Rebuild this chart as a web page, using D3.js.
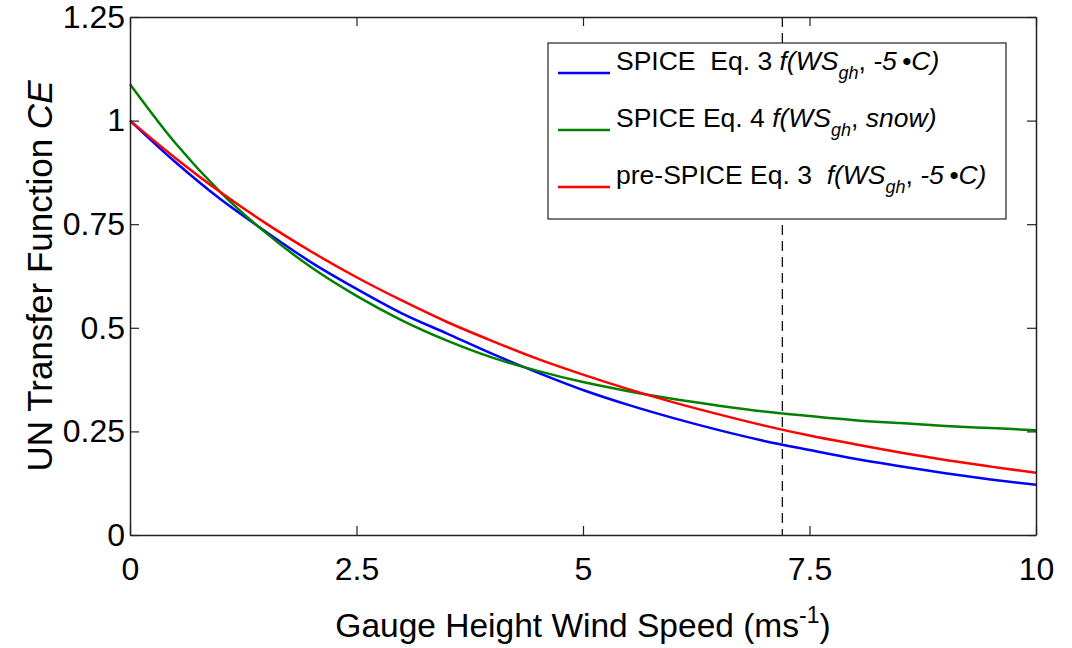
<!DOCTYPE html>
<html>
<head>
<meta charset="utf-8">
<script src="https://cdn.jsdelivr.net/npm/d3@7"></script>
<style>
  body { margin: 0; background: #fff; }
  text { font-family: "Liberation Sans", Arial, sans-serif; fill: #000; }
</style>
</head>
<body>
<div class="canvas"></div>
<script>
// wind speed at gauge height (m/s)
const windSpeed = [0, 0.5, 1, 1.5, 2, 2.5, 3, 3.5, 4, 4.5, 5, 5.5, 6, 6.5, 7, 7.5, 8, 8.5, 9, 9.5, 10];
// SPICE Eq. 3, -5 C
const spiceEq3 = [1.0, 0.9, 0.81, 0.732, 0.658, 0.594, 0.535, 0.486, 0.437, 0.392, 0.35, 0.314, 0.282, 0.253, 0.227, 0.205, 0.184, 0.166, 0.149, 0.134, 0.121];
// SPICE Eq. 4, snow
const spiceEq4 = [1.088, 0.946, 0.827, 0.729, 0.646, 0.577, 0.518, 0.469, 0.428, 0.396, 0.369, 0.347, 0.328, 0.312, 0.298, 0.287, 0.277, 0.27, 0.263, 0.258, 0.253];
// pre-SPICE Eq. 3, -5 C
const preSpiceEq3 = [1.0, 0.91, 0.827, 0.752, 0.684, 0.622, 0.566, 0.514, 0.468, 0.425, 0.387, 0.352, 0.32, 0.291, 0.264, 0.24, 0.219, 0.199, 0.181, 0.165, 0.15];
const xTicks = [0, 2.5, 5, 7.5, 10];
const yTicks = [0, 0.25, 0.5, 0.75, 1, 1.25];
const thresholdSpeed = 7.2;

const series = [
  { name: 'spiceEq3', values: spiceEq3, colour: '#0000ff' },
  { name: 'spiceEq4', values: spiceEq4, colour: '#008000' },
  { name: 'preSpiceEq3', values: preSpiceEq3, colour: '#ff0000' },
];

const dims = { width: 1072, height: 648 };
const plot = { left: 130, right: 1036, top: 17, bottom: 535 };

const svg = d3
  .select('.canvas')
  .append('svg')
  .attr('width', dims.width)
  .attr('height', dims.height);

const x = d3.scaleLinear().domain([0, 10]).range([plot.left, plot.right]);
const y = d3.scaleLinear().domain([0, 1.25]).range([plot.bottom, plot.top]);

// dashed threshold line (sits behind the legend)
svg
  .append('line')
  .attr('x1', x(thresholdSpeed))
  .attr('x2', x(thresholdSpeed))
  .attr('y1', y(1.25))
  .attr('y2', y(0))
  .attr('stroke', '#000')
  .attr('stroke-width', 1.2)
  .attr('stroke-dasharray', '10,6');

// curves
const line = d3
  .line()
  .x((d, i) => x(windSpeed[i]))
  .y((d) => y(d))
  .curve(d3.curveMonotoneX);

svg
  .selectAll('path.curve')
  .data(series)
  .enter()
  .append('path')
  .attr('class', 'curve')
  .attr('fill', 'none')
  .attr('stroke', (d) => d.colour)
  .attr('stroke-width', 2.5)
  .attr('d', (d) => line(d.values));

// axes, ticks pointing inwards on all four sides
const styleAxis = (g) => {
  g.select('.domain').attr('stroke', '#222').attr('stroke-width', 1.5);
  g.selectAll('.tick line').attr('stroke', '#222').attr('stroke-width', 1.2);
  g.selectAll('text').attr('font-size', 32).attr('font-family', '"Liberation Sans", Arial, sans-serif');
};

svg
  .append('g')
  .attr('transform', `translate(0, ${plot.bottom})`)
  .call(d3.axisBottom(x).tickValues(xTicks).tickFormat(String).tickSize(-9).tickSizeOuter(0).tickPadding(22))
  .call(styleAxis);

svg
  .append('g')
  .attr('transform', `translate(${plot.left}, 0)`)
  .call(d3.axisLeft(y).tickValues(yTicks).tickFormat(String).tickSize(-9).tickSizeOuter(0).tickPadding(5))
  .call(styleAxis);

svg
  .append('g')
  .attr('transform', `translate(0, ${plot.top})`)
  .call(d3.axisTop(x).tickValues(xTicks).tickFormat('').tickSize(-9).tickSizeOuter(0))
  .call(styleAxis);

svg
  .append('g')
  .attr('transform', `translate(${plot.right}, 0)`)
  .call(d3.axisRight(y).tickValues(yTicks).tickFormat('').tickSize(-9).tickSizeOuter(0))
  .call(styleAxis);

// axis titles
const xTitle = svg
  .append('text')
  .attr('x', (plot.left + plot.right) / 2)
  .attr('y', 637)
  .attr('text-anchor', 'middle')
  .attr('font-size', 33.5);
xTitle.append('tspan').text('Gauge Height Wind Speed (ms');
xTitle.append('tspan').attr('font-size', 23).attr('dy', -14).text('-1');
xTitle.append('tspan').attr('dy', 14).text(')');

const yTitle = svg
  .append('text')
  .attr('transform', `translate(52, ${(plot.top + plot.bottom) / 2}) rotate(-90)`)
  .attr('text-anchor', 'middle')
  .attr('font-size', 35);
yTitle.append('tspan').text('UN Transfer Function ');
yTitle.append('tspan').attr('font-style', 'italic').text('CE');

// legend
const legend = { left: 548, top: 43, width: 458, height: 176 };
const legendRows = [
  { colour: '#0000ff', plain: 'SPICE\u00a0\u00a0Eq. 3 ', tail: '-5\u2009\u2022C)', y: 73 },
  { colour: '#008000', plain: 'SPICE Eq. 4 ', tail: 'snow)', y: 130 },
  { colour: '#ff0000', plain: 'pre-SPICE Eq. 3\u00a0\u00a0', tail: '-5\u2009\u2022C)', y: 187 },
];

const legendGroup = svg.append('g');
legendGroup
  .append('rect')
  .attr('x', legend.left)
  .attr('y', legend.top)
  .attr('width', legend.width)
  .attr('height', legend.height)
  .attr('fill', '#fff')
  .attr('stroke', '#222')
  .attr('stroke-width', 1.2);

legendRows.forEach((row) => {
  legendGroup
    .append('line')
    .attr('x1', 558)
    .attr('x2', 610)
    .attr('y1', row.y)
    .attr('y2', row.y)
    .attr('stroke', row.colour)
    .attr('stroke-width', 2.5);
  const t = legendGroup
    .append('text')
    .attr('x', 616)
    .attr('y', row.y - 3)
    .attr('font-size', 26.5);
  t.append('tspan').text(row.plain);
  t.append('tspan').attr('font-style', 'italic').text('f(WS');
  t.append('tspan').attr('font-style', 'italic').attr('font-size', 18).attr('dy', 9).text('gh');
  t.append('tspan').attr('dy', -9).text(', ');
  t.append('tspan').attr('font-style', 'italic').text(row.tail);
});
</script>
</body>
</html>
